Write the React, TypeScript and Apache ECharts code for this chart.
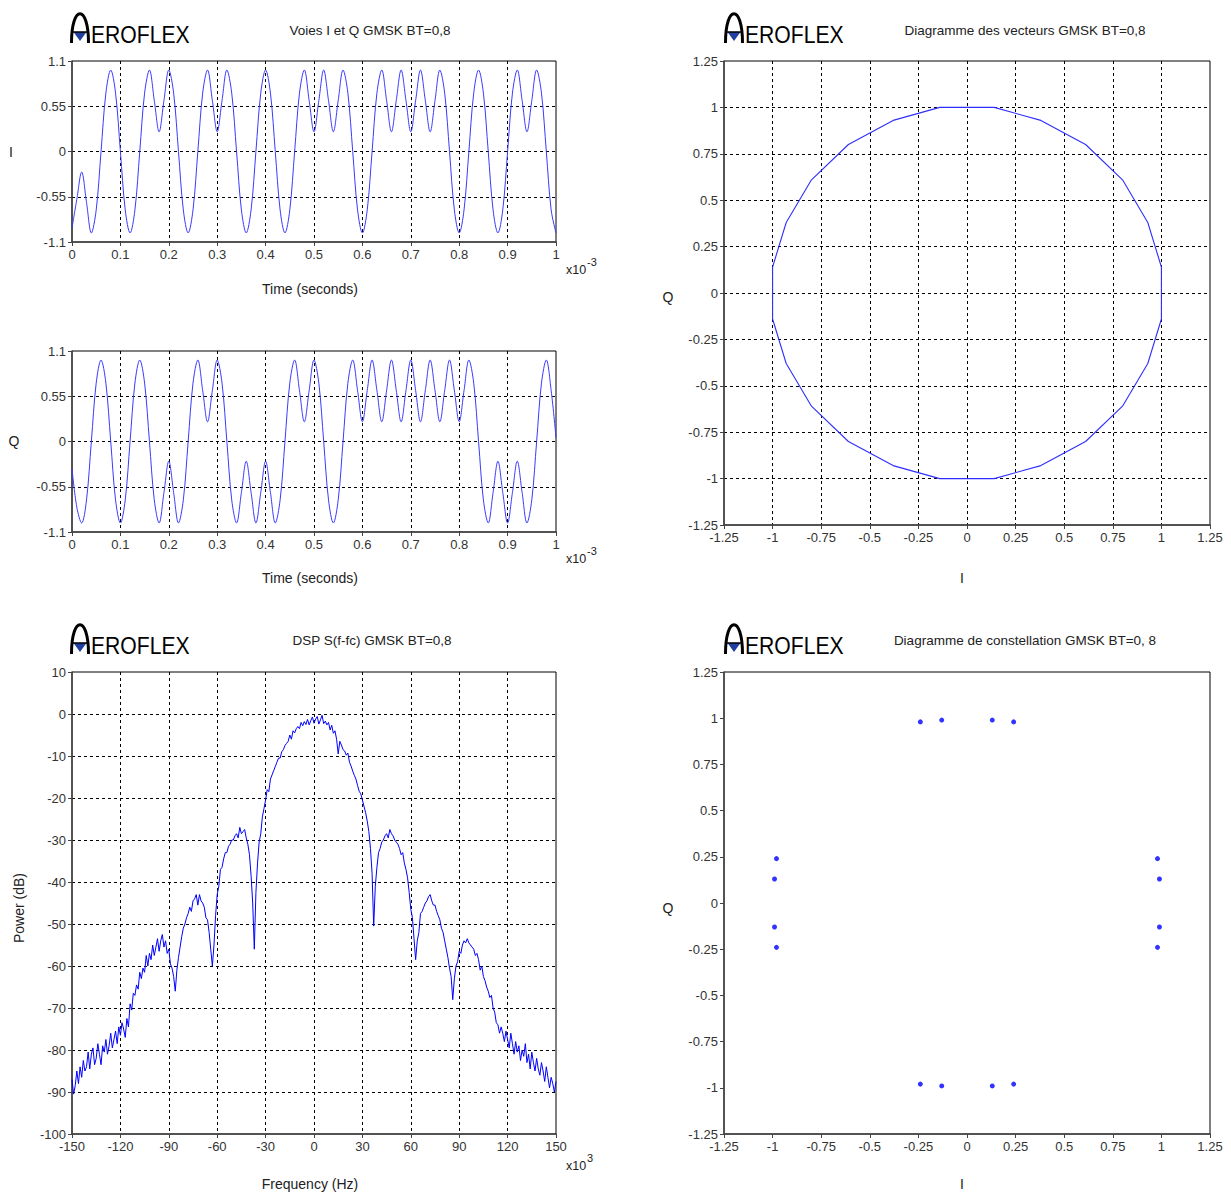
import React, { useEffect, useRef } from "react";
import * as echarts from "echarts";

const FONT = '"Liberation Sans", Arial, sans-serif';

// ---- I / Q channels (time in units of 1e-3 s) ----
const timeStart = 0;
const timeStep = 0.01;
const timeTicks = { min: 0, max: 1, interval: 0.1 };
const iqTicks = { min: -1.1, max: 1.1, interval: 0.55 };

const iValues = [
  -0.93, -0.58, -0.25, -0.62, -0.99, -0.71, 0, 0.71, 0.99, 0.71,
  0, -0.71, -0.99, -0.71, 0, 0.71, 0.99, 0.62, 0.24, 0.62,
  0.99, 0.71, 0, -0.71, -0.99, -0.71, 0, 0.71, 0.99, 0.62,
  0.24, 0.62, 0.99, 0.71, 0, -0.71, -0.99, -0.71, 0, 0.71,
  0.99, 0.71, 0, -0.71, -0.99, -0.71, 0, 0.71, 0.99, 0.62,
  0.24, 0.62, 0.99, 0.62, 0.24, 0.62, 0.99, 0.71, 0, -0.71,
  -0.99, -0.71, 0, 0.71, 0.99, 0.62, 0.24, 0.62, 0.99, 0.62,
  0.24, 0.62, 0.99, 0.62, 0.24, 0.62, 0.99, 0.71, 0, -0.71,
  -0.99, -0.71, 0, 0.71, 0.99, 0.71, 0, -0.71, -0.99, -0.71,
  0, 0.71, 0.99, 0.62, 0.24, 0.62, 0.99, 0.71, 0, -0.71,
  -0.99,
];

const qValues = [
  -0.33, -0.8, -0.99, -0.71, 0, 0.71, 0.99, 0.71, 0, -0.71,
  -0.99, -0.71, 0, 0.71, 0.99, 0.71, 0, -0.71, -0.99, -0.62,
  -0.24, -0.62, -0.99, -0.71, 0, 0.71, 0.99, 0.62, 0.24, 0.62,
  0.99, 0.71, 0, -0.71, -0.99, -0.62, -0.24, -0.62, -0.99, -0.62,
  -0.24, -0.62, -0.99, -0.71, 0, 0.71, 0.99, 0.62, 0.24, 0.62,
  0.99, 0.71, 0, -0.71, -0.99, -0.71, 0, 0.71, 0.99, 0.62,
  0.24, 0.62, 0.99, 0.62, 0.24, 0.62, 0.99, 0.62, 0.24, 0.62,
  0.99, 0.62, 0.24, 0.62, 0.99, 0.62, 0.24, 0.62, 0.99, 0.62,
  0.24, 0.62, 0.99, 0.71, 0, -0.71, -0.99, -0.62, -0.24, -0.62,
  -0.99, -0.62, -0.24, -0.62, -0.99, -0.71, 0, 0.71, 0.99, 0.62,
  0.05,
];

// ---- Vector diagram (I, Q) ----
const vecI = [1.0, 0.93, 0.8, 0.61, 0.38, 0.14, -0.14, -0.38, -0.61, -0.8, -0.93, -1.0,
  -1.0, -0.93, -0.8, -0.61, -0.38, -0.14, 0.14, 0.38, 0.61, 0.8, 0.93, 1.0, 1.0];
const vecQ = [0.14, 0.38, 0.61, 0.8, 0.93, 1.0, 1.0, 0.93, 0.8, 0.61, 0.38, 0.14,
  -0.14, -0.38, -0.61, -0.8, -0.93, -1.0, -1.0, -0.93, -0.8, -0.61, -0.38, -0.14, 0.14];
const unitTicks = { min: -1.25, max: 1.25, interval: 0.25 };

// ---- Constellation (I, Q) ----
const constI = [-0.24, -0.13, 0.13, 0.24, -0.98, -0.99, -0.99, -0.98, 0.98, 0.99, 0.99, 0.98, -0.24, -0.13, 0.13, 0.24];
const constQ = [0.98, 0.99, 0.99, 0.98, 0.24, 0.13, -0.13, -0.24, 0.24, 0.13, -0.13, -0.24, -0.98, -0.99, -0.99, -0.98];

// ---- Power spectral density (frequency in kHz, power in dB) ----
const freqStart = -150;
const freqStep = 1;
const freqTicks = { min: -150, max: 150, interval: 30 };
const powerTicks = { min: -100, max: 10, interval: 10 };
const psdDb = [
  -87, -90.5, -88.5, -85, -88, -84, -86.5, -82.5, -85, -84,
  -80.5, -84.5, -81, -79.5, -83.5, -82, -78.5, -81, -83.5, -79,
  -80.5, -77.5, -81, -79, -76, -79.5, -77.5, -75.5, -78.5, -74.5,
  -76.5, -73.5, -75, -77, -72.5, -74.5, -69, -70.5, -66.5, -67,
  -64.5, -65.5, -61.5, -63, -60.5, -61.5, -57.5, -60, -57, -58.5,
  -55, -57.5, -55.5, -53.5, -56.5, -54, -52.5, -55.5, -54, -57,
  -56, -59.5, -60.5, -62.5, -66, -61, -58, -55.5, -53, -51,
  -50, -48.5, -47.5, -46, -47, -44.5, -44, -43, -45.5, -43,
  -44.5, -45, -46, -48.5, -49, -52, -56, -60, -55, -48,
  -43, -41, -37, -36.5, -34.5, -33, -33, -31.5, -31, -30,
  -30, -29, -28.5, -29.5, -27, -28.5, -28, -27.5, -29.5, -31,
  -33.5, -38.5, -45, -56, -42.5, -35.5, -30.5, -28.5, -24.5, -22.5,
  -20.5, -18, -18.5, -15.5, -14.5, -13.5, -12.5, -11.5, -10.5, -10.5,
  -9, -8.5, -7.5, -7, -6.5, -5, -6, -4, -4.5, -3.5,
  -3, -3.5, -2, -2.8, -1.8, -2.5, -1.3, -2.6, -1.6, -0.7,
  -2.2, -1.2, -0.6, -2.4, -1.4, -0.3, -2.3, -1.7, -2.6, -2,
  -3.8, -2.7, -4.6, -4, -6, -9.5, -6.5, -7.4, -8.5, -8.8,
  -9.8, -9.3, -11.5, -12.4, -13.6, -14.6, -15.5, -17, -18.4, -19,
  -20.5, -22, -23.5, -25.5, -28, -32, -38, -50.5, -41, -36.5,
  -33, -32, -30.5, -30, -29, -28.5, -29.5, -27.5, -28.5, -29,
  -30, -30.5, -31, -32, -33.5, -33, -35.5, -37, -39, -42.5,
  -46.5, -48.5, -53.5, -58.5, -54, -52, -47.5, -47, -46, -45,
  -44.5, -43.5, -43, -44.5, -45.5, -45.5, -47, -48, -49, -51,
  -52, -54, -56, -58, -60.5, -62.5, -68, -63, -60, -59,
  -56.5, -57, -55, -54, -54.5, -53.5, -54.5, -55, -55.5, -56,
  -57.5, -57, -58.5, -61, -60, -62.5, -63.5, -65, -66, -67.5,
  -67, -70, -71, -73.5, -74, -76, -74.5, -76, -78, -75.5,
  -77.5, -79.5, -76, -78.5, -81, -78, -80.5, -79, -82.5, -80,
  -81.5, -78.5, -83, -81, -84.5, -80.5, -83, -85, -82, -84.5,
  -86, -83, -85, -87.5, -84, -86.5, -89, -86.5, -88, -90, -87.5,
];

// ---- Texts ----
const titles = [
  "Voies I et Q GMSK BT=0,8",
  "Diagramme des vecteurs GMSK BT=0,8",
  "DSP S(f-fc) GMSK BT=0,8",
  "Diagramme de constellation GMSK BT=0, 8",
];

function txt(x: number, y: number, text: string, o: any = {}) {
  return {
    type: "text",
    x,
    y,
    rotation: o.rotation || 0,
    z: 100,
    style: {
      text,
      fill: o.fill || "#222",
      fontSize: o.fontSize || 14,
      fontFamily: FONT,
      align: o.align || "center",
      verticalAlign: o.va || "middle",
    },
  };
}

function logo(x: number, y: number) {
  return {
    type: "group",
    x,
    y,
    z: 100,
    children: [
      {
        type: "bezierCurve",
        shape: { x1: 1.5, y1: 30, cpx1: 1.5, cpy1: -9, cpx2: 18.5, cpy2: -9, x2: 18.5, y2: 30 },
        style: { stroke: "#000", lineWidth: 3, fill: "none" },
      },
      { type: "polygon", shape: { points: [[3.5, 19], [16.5, 19], [10, 28]] }, style: { fill: "#1f3f9f" } },
      { type: "line", shape: { x1: 3, y1: 19, x2: 17, y2: 19 }, style: { stroke: "#000", lineWidth: 1.5 } },
      {
        type: "text",
        x: 21,
        y: 22,
        scaleX: 0.88,
        style: { text: "EROFLEX", fontSize: 24, fontFamily: FONT, fill: "#000", align: "left", verticalAlign: "middle" },
      },
    ],
  };
}

function mkAxis(gridIndex: number, t: { min: number; max: number; interval: number }, split = true) {
  return {
    type: "value",
    gridIndex,
    min: t.min,
    max: t.max,
    interval: t.interval,
    axisLine: { show: true, onZero: false, lineStyle: { color: "#444", width: 1.5 } },
    axisTick: { show: true, length: 4, lineStyle: { color: "#444" } },
    axisLabel: { color: "#333", fontSize: 13, fontFamily: FONT, margin: 6, showMinLabel: true, showMaxLabel: true },
    splitLine: {
      show: split,
      showMinLine: false,
      showMaxLine: false,
      lineStyle: { color: "#000", type: [3, 3], width: 1 },
    },
  };
}

export default function App() {
  const ref = useRef<HTMLDivElement>(null);

  useEffect(() => {
    document.body.style.margin = "0";
    if (!ref.current) return;
    const chart = echarts.init(ref.current, undefined, { renderer: "svg" });

    const iData = iValues.map((v, k) => [+(timeStart + k * timeStep).toFixed(2), v]);
    const qData = qValues.map((v, k) => [+(timeStart + k * timeStep).toFixed(2), v]);
    const vecData = vecI.map((v, k) => [v, vecQ[k]]);
    const constData = constI.map((v, k) => [v, constQ[k]]);
    const psdData = psdDb.map((v, k) => [freqStart + k * freqStep, v]);

    const gridBase = { show: true, borderColor: "#000", borderWidth: 1, backgroundColor: "#fff", containLabel: false };

    const option: any = {
      animation: false,
      backgroundColor: "#fff",
      grid: [
        { ...gridBase, left: 72, top: 61, width: 484, height: 181 },
        { ...gridBase, left: 72, top: 351, width: 484, height: 181 },
        { ...gridBase, left: 724, top: 61, width: 486, height: 464 },
        { ...gridBase, left: 72, top: 672, width: 484, height: 462 },
        { ...gridBase, left: 724, top: 672, width: 486, height: 462 },
      ],
      xAxis: [
        mkAxis(0, timeTicks),
        mkAxis(1, timeTicks),
        mkAxis(2, unitTicks),
        mkAxis(3, freqTicks),
        mkAxis(4, unitTicks, false),
      ],
      yAxis: [
        mkAxis(0, iqTicks),
        mkAxis(1, iqTicks),
        mkAxis(2, unitTicks),
        mkAxis(3, powerTicks),
        mkAxis(4, unitTicks, false),
      ],
      series: [
        {
          type: "line", xAxisIndex: 0, yAxisIndex: 0, data: iData, showSymbol: false, smooth: 0.35,
          lineStyle: { color: "#3a3aff", width: 1 },
        },
        {
          type: "line", xAxisIndex: 1, yAxisIndex: 1, data: qData, showSymbol: false, smooth: 0.35,
          lineStyle: { color: "#3a3aff", width: 1 },
        },
        {
          type: "line", xAxisIndex: 2, yAxisIndex: 2, data: vecData, showSymbol: false,
          lineStyle: { color: "#2e2eff", width: 1.1 },
        },
        {
          type: "line", xAxisIndex: 3, yAxisIndex: 3, data: psdData, showSymbol: false,
          lineStyle: { color: "#0000ff", width: 1 },
        },
        {
          type: "scatter", xAxisIndex: 4, yAxisIndex: 4, data: constData, symbolSize: 5,
          itemStyle: { color: "#0000ff" },
        },
      ],
      graphic: [
        logo(70, 13),
        logo(724, 13),
        logo(70, 624),
        logo(724, 624),
        txt(370, 30, titles[0], { fontSize: 13.5 }),
        txt(1025, 30, titles[1], { fontSize: 13.5 }),
        txt(372, 640, titles[2], { fontSize: 13.5 }),
        txt(1025, 640, titles[3], { fontSize: 13.5 }),
        txt(11, 152, "I", { fill: "#222" }),
        txt(14, 441, "Q"),
        txt(19, 908, "Power (dB)", { rotation: Math.PI / 2 }),
        txt(310, 289, "Time (seconds)"),
        txt(310, 578, "Time (seconds)"),
        txt(310, 1184, "Frequency (Hz)"),
        txt(668, 297, "Q"),
        txt(962, 578, "I"),
        txt(668, 908, "Q"),
        txt(962, 1184, "I"),
        txt(566, 270, "x10", { align: "left", fontSize: 12.5 }),
        txt(587, 262, "-3", { align: "left", fontSize: 11 }),
        txt(566, 559, "x10", { align: "left", fontSize: 12.5 }),
        txt(587, 551, "-3", { align: "left", fontSize: 11 }),
        txt(566, 1166, "x10", { align: "left", fontSize: 12.5 }),
        txt(587, 1158, "3", { align: "left", fontSize: 11 }),
      ],
    };

    chart.setOption(option);
    return () => chart.dispose();
  }, []);

  return (
    <div
      ref={ref}
      style={{ position: "absolute", left: 0, top: 0, width: 1231, height: 1195, background: "#fff" }}
    />
  );
}
